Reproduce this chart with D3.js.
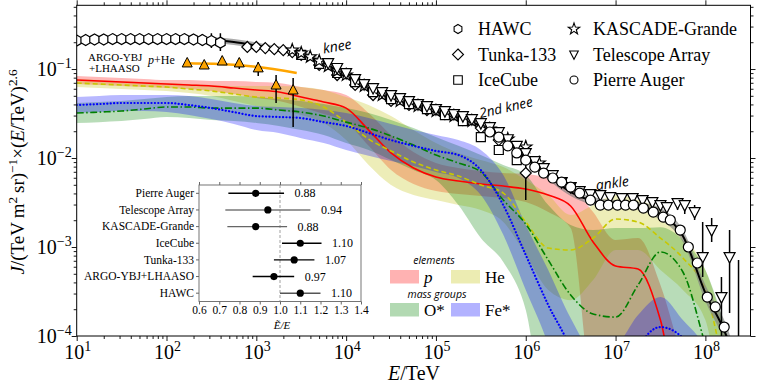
<!DOCTYPE HTML>
<html>
<head>
<meta charset="utf-8">
<style>
  body { margin: 0; background: #fff; }
  svg text { font-family: "Liberation Serif", "DejaVu Serif", serif; fill: #000; }
  .sans { font-family: "Open Sans", "DejaVu Sans", sans-serif; font-style: italic; }
</style>
</head>
<body>
<script src="https://cdn.jsdelivr.net/npm/d3@7"></script>
<script>

// *** DATA ***

// energy grid (TeV) for the model curves
var gridE = [1e1, 1.78e1, 3.16e1, 5.62e1, 1e2, 1.78e2, 3.16e2, 5.62e2, 1e3, 1.78e3, 3.16e3, 5.62e3,
  1e4, 1.78e4, 3.16e4, 5.62e4, 1e5, 1.78e5, 3.16e5, 5.62e5, 1e6, 1.78e6, 3.16e6, 5.62e6,
  1e7, 1.78e7, 3.16e7, 5.62e7, 1e8, 1.78e8, 3.16e8];

// protons
var pMid = [0.0752, 0.0733, 0.0714, 0.0696, 0.0678, 0.0661, 0.0644, 0.0612, 0.0581, 0.0551, 0.0484, 0.0426,
  0.0364, 0.0206, 0.0114, 0.00772, 0.00612, 0.00551, 0.00510, 0.00484, 0.00448, 0.00384, 0.00289, 0.00114,
  6.12e-4, 5.66e-4, 1.51e-4, 1.1e-5, 1e-5, 1e-5, 1e-5];
var pHi = [0.0834, 0.0813, 0.0792, 0.0772, 0.0752, 0.0752, 0.0733, 0.0733, 0.0714, 0.0696, 0.0628, 0.0581,
  0.0510, 0.0320, 0.0181, 0.0117, 0.00879, 0.00772, 0.00714, 0.00678, 0.00661, 0.00596, 0.00484, 0.00247,
  0.00120, 0.00126, 3.74e-4, 5.37e-5, 1e-5, 1e-5, 1e-5];
var pLo = [0.0678, 0.0661, 0.0644, 0.0628, 0.0612, 0.0596, 0.0566, 0.0524, 0.0472, 0.0437, 0.0374, 0.0312,
  0.0253, 0.0137, 0.00733, 0.00510, 0.00426, 0.00394, 0.00374, 0.00355, 0.00320, 0.00247, 0.00163, 1.9e-5,
  1e-5, 1e-5, 1e-5, 1e-5, 1e-5, 1e-5, 1e-5];

// helium
var heMid = [0.0696, 0.0678, 0.0661, 0.0644, 0.0628, 0.0596, 0.0566, 0.0524, 0.0484, 0.0472, 0.0448, 0.0374,
  0.0253, 0.0163, 0.0120, 0.00902, 0.00733, 0.00628, 0.00497, 0.00404, 0.00191, 9.74e-4, 9.25e-4, 0.00126,
  0.00206, 0.00191, 0.00126, 7.52e-4, 3.28e-4, 3.2e-5, 1e-5];
var heHi = [0.0772, 0.0752, 0.0733, 0.0714, 0.0696, 0.0678, 0.0661, 0.0644, 0.0644, 0.0644, 0.0628, 0.0581,
  0.0484, 0.0394, 0.0296, 0.0206, 0.0147, 0.0114, 0.00949, 0.00792, 0.00566, 0.00384, 0.00229, 0.00296,
  0.00384, 0.00337, 0.00260, 0.00137, 5.51e-4, 9.0e-5, 1e-5];
var heLo = [0.0628, 0.0612, 0.0596, 0.0581, 0.0566, 0.0537, 0.0497, 0.0437, 0.0384, 0.0346, 0.0304, 0.0247,
  0.0159, 0.00834, 0.00497, 0.00384, 0.00337, 0.00296, 0.00260, 0.00191, 8.13e-4, 3.28e-4, 2.53e-4, 4.26e-4,
  9.25e-4, 9.25e-4, 5.51e-4, 3.28e-4, 1.51e-4, 1.1e-5, 1e-5];

// oxygen group
var oMid = [0.0320, 0.0328, 0.0337, 0.0355, 0.0374, 0.0374, 0.0364, 0.0364, 0.0364, 0.0346, 0.0328, 0.0296,
  0.0253, 0.0217, 0.0177, 0.0140, 0.0108, 0.00879, 0.00696, 0.00337, 0.00181, 7.14e-4, 2.89e-4, 1.77e-4,
  1.63e-4, 3.74e-4, 8.79e-4, 5.24e-4, 7.9e-5, 1e-5, 1e-5];
var oHi = [0.0415, 0.0426, 0.0437, 0.0460, 0.0484, 0.0497, 0.0497, 0.0497, 0.0484, 0.0460, 0.0437, 0.0404,
  0.0364, 0.0320, 0.0267, 0.0217, 0.0172, 0.0137, 0.0108, 0.00834, 0.00644, 0.00296, 0.00177, 0.00155,
  0.00163, 0.00163, 0.00167, 0.00120, 5.51e-4, 1e-4, 1e-5];
var oLo = [0.0247, 0.0253, 0.0260, 0.0274, 0.0289, 0.0281, 0.0267, 0.0260, 0.0247, 0.0229, 0.0206, 0.0181,
  0.0147, 0.0123, 0.00949, 0.00733, 0.00566, 0.00296, 0.00126, 6.78e-4, 1.96e-4, 1e-5, 1e-5, 1e-5,
  1e-5, 1e-5, 1e-5, 1e-5, 1e-5, 1e-5, 1e-5];

// iron group
var feMid = [0.0394, 0.0404, 0.0415, 0.0415, 0.0415, 0.0394, 0.0364, 0.0328, 0.0296, 0.0289, 0.0281, 0.0253,
  0.0229, 0.0191, 0.0159, 0.0137, 0.0120, 0.0108, 0.00733, 0.00296, 8.13e-4, 2.23e-4, 7.0e-5, 1e-5,
  1e-5, 7.0e-5, 1.26e-4, 9.5e-5, 1e-5, 1e-5, 1e-5];
var feHi = [0.0484, 0.0497, 0.0510, 0.0510, 0.0510, 0.0497, 0.0460, 0.0415, 0.0384, 0.0374, 0.0364, 0.0346,
  0.0320, 0.0281, 0.0241, 0.0206, 0.0181, 0.0159, 0.0123, 0.00644, 0.00177, 5.51e-4, 1.59e-4, 7.0e-5,
  7.9e-5, 1.72e-4, 2.74e-4, 1.51e-4, 7.0e-5, 1e-5, 1e-5];
var feLo = [0.0320, 0.0328, 0.0337, 0.0337, 0.0328, 0.0304, 0.0274, 0.0241, 0.0206, 0.0191, 0.0167, 0.0147,
  0.0123, 0.0106, 0.00925, 0.00813, 0.00696, 0.00596, 0.00384, 0.00137, 3.28e-4, 7.9e-5, 1e-5, 1e-5,
  1e-5, 1e-5, 1e-5, 1e-5, 1e-5, 1e-5, 1e-5];

// all-particle fit
var totMid = [0.209, 0.212, 0.215, 0.215, 0.215, 0.215, 0.212, 0.201, 0.184, 0.167, 0.151, 0.117,
  0.0834, 0.0596, 0.0460, 0.0384, 0.0328, 0.0281, 0.0229, 0.0163, 0.0100, 0.00628, 0.00415, 0.00328,
  0.00304, 0.00289, 0.00235, 0.00133, 3.04e-4, 9.0e-5, 1e-5];
var totHi = [0.226, 0.229, 0.232, 0.232, 0.232, 0.232, 0.229, 0.217, 0.199, 0.180, 0.163, 0.126,
  0.0901, 0.0644, 0.0497, 0.0415, 0.0355, 0.0304, 0.0248, 0.0176, 0.0108, 0.00696, 0.00460, 0.00364,
  0.00337, 0.00320, 0.00274, 0.00155, 3.74e-4, 1.2e-4, 1.3e-5];
var totLo = [0.193, 0.196, 0.199, 0.199, 0.199, 0.199, 0.196, 0.186, 0.170, 0.155, 0.140, 0.108,
  0.0772, 0.0551, 0.0426, 0.0355, 0.0303, 0.0260, 0.0212, 0.0151, 0.00926, 0.00566, 0.00374, 0.00296,
  0.00274, 0.00261, 0.00201, 0.00114, 2.47e-4, 7e-5, 8e-6];

// measurements
var hawcE = [10, 12.6, 15.8, 20, 25.1, 31.6, 39.8, 50.1, 63.1, 79.4, 100, 126, 158, 200, 251, 316, 398];
var hawcJ = [0.209, 0.212, 0.215, 0.215, 0.217, 0.217, 0.217, 0.217, 0.217, 0.217, 0.217, 0.217, 0.217, 0.215, 0.212, 0.206, 0.198];
var hawcHi = [null, null, null, null, null, null, null, null, null, null, null, null, 0.235, 0.241, 0.247, 0.253, 0.253];
var hawcLo = [null, null, null, null, null, null, null, null, null, null, null, null, 0.201, 0.191, 0.181, 0.172, 0.159];

var tunkaE = [794, 1000, 1259, 1585, 1995, 2512, 3162, 5012, 7943, 12600, 19950, 31620, 50120, 79430, 125900, 199500, 316200, 501200, 1e6];
var tunkaJ = [0.177, 0.177, 0.172, 0.167, 0.163, 0.155, 0.144, 0.111, 0.0856, 0.0661, 0.0510, 0.0437, 0.0394, 0.0346, 0.0312, 0.0267, 0.0217, 0.0159, 0.00678];
var tunkaHi = [null, null, null, null, null, null, null, null, null, null, null, null, null, null, null, null, null, null, 0.0103];
var tunkaLo = [null, null, null, null, null, null, null, null, null, null, null, null, null, null, null, null, null, null, 0.00337];

var icE = [3162, 5012, 7943, 12590, 19950, 31620, 50120, 79430, 125900, 199500, 316200, 501200, 794300];
var icJ = [0.144, 0.114, 0.0902, 0.0714, 0.0551, 0.0460, 0.0404, 0.0355, 0.0304, 0.0260, 0.0172, 0.0123, 0.00949];

var kgE = [2512, 3162, 3981, 5012, 6310, 7943, 1e4, 15850, 25120, 39810, 63100, 1e5, 158500, 251200, 398100, 631000, 1e6, 1.41e6];
var kgJ = [0.163, 0.151, 0.137, 0.123, 0.108, 0.0949, 0.0856, 0.0644, 0.0510, 0.0437, 0.0384, 0.0337, 0.0296, 0.0260, 0.0212, 0.0163, 0.0133, 0.00879];

var taE = [6310, 7943, 1e4, 12590, 15850, 19950, 25120, 31620, 39810, 50120, 63100, 79430, 1e5, 1.259e5, 1.585e5,
  1.995e5, 2.512e5, 3.162e5, 3.981e5, 5.012e5, 6.31e5, 7.943e5, 1e6, 1.259e6, 1.585e6, 1.995e6, 2.512e6, 3.162e6,
  3.981e6, 5.25e6, 6.76e6, 8.71e6, 1.175e7, 1.549e7, 2.0e7, 2.57e7, 3.16e7, 3.72e7, 4.9e7, 5.89e7, 7.59e7,
  9.33e7, 1.175e8, 1.51e8, 1.86e8, 2.34e8];
var taJ = [0.117, 0.103, 0.0902, 0.0772, 0.0678, 0.0612, 0.0551, 0.0510, 0.0472, 0.0437, 0.0404, 0.0384, 0.0355,
  0.0337, 0.0312, 0.0296, 0.0274, 0.0247, 0.0223, 0.0196, 0.0163, 0.0137, 0.0114, 0.00925, 0.00772, 0.00644,
  0.00537, 0.00472, 0.00426, 0.00394, 0.00384, 0.00364, 0.00355, 0.00355, 0.00337, 0.00320, 0.00296, 0.00281,
  0.00312, 0.00296, 0.00247, 7.72e-4, 0.00155, 2.74e-4, 7.72e-4, 6.96e-5];
var taHi = [];
var taLo = [];
taE.forEach(function() { taHi.push(null); taLo.push(null); });
// error bars of the highest-energy points
var taErrIdx = [38, 39, 40, 41, 42, 43, 44, 45];
var taErrHi = [0.00355, 0.00337, 0.00296, 0.00191, 0.00212, 4.60e-4, 0.00155, 7.14e-4];
var taErrLo = [0.00260, 0.00235, 0.00201, 4.60e-4, 0.00114, 1e-5, 1.81e-4, 1e-5];
taErrIdx.forEach(function(k, i) { taHi[k] = taErrHi[i]; taLo[k] = taErrLo[i]; });

var augerE = [3.98e5, 5.01e5, 6.31e5, 7.94e5, 1e6, 1.26e6, 1.58e6, 2.0e6, 2.51e6, 3.16e6, 3.98e6, 5.25e6, 6.76e6,
  8.32e6, 1.05e7, 1.29e7, 1.58e7, 2.04e7, 2.63e7, 3.39e7, 4.07e7, 5.25e7, 6.46e7, 8.13e7, 1.05e8, 1.29e8, 1.62e8];
var augerJ = [0.0196, 0.0172, 0.0137, 0.0114, 0.00949, 0.00792, 0.00678, 0.00596, 0.00537, 0.00472, 0.00404,
  0.00337, 0.00296, 0.00296, 0.00296, 0.00296, 0.00296, 0.00274, 0.00247, 0.00217, 0.00201, 0.00155, 0.00100,
  6.61e-4, 2.74e-4, 2.12e-4, 1.26e-4];

var argoE = [170, 263, 417, 646, 1050, 1660, 2570];
var argoJ = [0.117, 0.111, 0.123, 0.117, 0.103, 0.0661, 0.0581];
var argoHi = [0.126, 0.120, 0.137, 0.133, 0.120, 0.0856, 0.0792];
var argoLo = [0.108, 0.103, 0.111, 0.100, 0.0834, 0.0415, 0.0223];
var argoFitE = [158, 398, 1000, 2818];
var argoFitJ = [0.116, 0.114, 0.106, 0.0902];

// energy-scale inset
var biasNames = ['Pierre Auger', 'Telescope Array', 'KASCADE-Grande', 'IceCube', 'Tunka-133', 'ARGO-YBJ+LHAASO', 'HAWC'];
var biasVal = [0.88, 0.94, 0.88, 1.10, 1.07, 0.97, 1.10];
var biasLo = [0.745, 0.73, 0.74, 1.01, 0.97, 0.865, 1.00];
var biasHi = [1.02, 1.15, 1.035, 1.205, 1.17, 1.07, 1.20];
var biasTicks = [0.6, 0.7, 0.8, 0.9, 1.0, 1.1, 1.2, 1.3, 1.4];

// *** FUNCTIONS ***

function markerPath(kind, r) {
  var k, a, pts = [];
  if (kind === 'circle') return d3.symbol(d3.symbolCircle, Math.PI * r * r)();
  if (kind === 'square') return 'M' + (-r) + ',' + (-r) + 'H' + r + 'V' + r + 'H' + (-r) + 'Z';
  if (kind === 'diamond') return 'M0,' + (-r) + 'L' + r + ',0L0,' + r + 'L' + (-r) + ',0Z';
  if (kind === 'tridown') return 'M' + (-r) + ',' + (-r * 0.8) + 'L' + r + ',' + (-r * 0.8) + 'L0,' + (r * 1.1) + 'Z';
  if (kind === 'triup') return 'M0,' + (-r * 1.1) + 'L' + r + ',' + (r * 0.8) + 'L' + (-r) + ',' + (r * 0.8) + 'Z';
  if (kind === 'hexagon') {
    for (k = 0; k < 6; k++) { a = -Math.PI / 2 + k * Math.PI / 3; pts.push([r * Math.cos(a), r * Math.sin(a)]); }
    return 'M' + pts.join('L') + 'Z';
  }
  if (kind === 'star') {
    for (k = 0; k < 10; k++) {
      a = -Math.PI / 2 + k * Math.PI / 5;
      var rr = (k % 2 === 0) ? r : r * 0.4;
      pts.push([rr * Math.cos(a), rr * Math.sin(a)]);
    }
    return 'M' + pts.join('L') + 'Z';
  }
}

// text with italic / superscript segments
function richText(sel, parts, sup) {
  parts.forEach(function(p) {
    var t = sel.append('tspan').text(p.t);
    if (p.i) t.style('font-style', 'italic');
    if (p.s) t.attr('dy', -sup).attr('font-size', '0.7em');
    if (p.b) t.attr('dy', sup);
  });
}

function logMinor(lo, hi) {
  var out = [];
  for (var p = 0; p <= 9; p++) {
    for (var m = 2; m <= 9; m++) {
      var v = m * Math.pow(10, p - 5);
      if (v >= lo && v <= hi) out.push(v);
    }
  }
  return out;
}

// *** CHART ***

var W = 774, H = 387;
var L = 76.7, R = 750.5, T = 5.3, B = 336;

var svg = d3.select('body').append('svg').attr('width', W).attr('height', H);

var x = d3.scaleLog().domain([10, 3.18e8]).range([L, R]);
var y = d3.scaleLog().domain([1e-4, 0.52]).range([B, T]);

svg.append('clipPath').attr('id', 'clip').append('rect')
  .attr('x', L).attr('y', T).attr('width', R - L).attr('height', B - T);

var plot = svg.append('g').attr('clip-path', 'url(#clip)');

// model bands
function band(lo, hi, color, op) {
  var pts = gridE.map(function(e, i) { return {e: e, lo: lo[i], hi: hi[i]}; });
  plot.append('path').datum(pts)
    .attr('d', d3.area().x(function(d) { return x(d.e); })
      .y0(function(d) { return y(d.lo); }).y1(function(d) { return y(d.hi); })
      .curve(d3.curveMonotoneX))
    .attr('fill', color).attr('fill-opacity', op);
}
function curve(vals, color, dash, width) {
  var pts = gridE.map(function(e, i) { return {e: e, v: vals[i]}; });
  plot.append('path').datum(pts)
    .attr('d', d3.line().x(function(d) { return x(d.e); }).y(function(d) { return y(d.v); }).curve(d3.curveMonotoneX))
    .attr('fill', 'none').attr('stroke', color).attr('stroke-width', width)
    .attr('stroke-dasharray', dash).attr('stroke-linecap', dash === '0.1,3.3' ? 'round' : 'butt');
}

band(pLo, pHi, '#ff0000', 0.28);
band(heLo, heHi, '#bfbf00', 0.28);
band(oLo, oHi, '#008000', 0.28);
band(feLo, feHi, '#0000ff', 0.28);

curve(pMid, '#ff0000', null, 1.6);
curve(heMid, '#c8c800', '5,3', 1.6);
curve(oMid, '#008000', '7,2.5,1.5,2.5', 1.6);
curve(feMid, '#0000ff', '0.1,3.3', 2.2);

// all-particle band & line
band(totLo, totHi, '#808080', 0.65);
curve(totMid, '#000000', null, 2);

// experiments
function points(E, J, lo, hi, kind, r) {
  var g = plot.append('g');
  var data = E.map(function(e, i) { return {e: e, j: J[i], lo: lo ? lo[i] : null, hi: hi ? hi[i] : null}; });
  g.selectAll('line').data(data.filter(function(d) { return d.lo !== null; })).enter().append('line')
    .attr('x1', function(d) { return x(d.e); }).attr('x2', function(d) { return x(d.e); })
    .attr('y1', function(d) { return y(d.lo); }).attr('y2', function(d) { return y(d.hi); })
    .attr('stroke', '#000').attr('stroke-width', 1.5);
  g.selectAll('path').data(data).enter().append('path')
    .attr('d', markerPath(kind, r))
    .attr('transform', function(d) { return 'translate(' + x(d.e) + ',' + y(d.j) + ')'; })
    .attr('fill', '#fff').attr('stroke', '#000').attr('stroke-width', 1.2);
}

points(hawcE, hawcJ, hawcLo, hawcHi, 'hexagon', 5.5);
points(tunkaE, tunkaJ, tunkaLo, tunkaHi, 'diamond', 5.5);
points(icE, icJ, null, null, 'square', 4.5);
points(kgE, kgJ, null, null, 'star', 6.5);
points(taE, taJ, taLo, taHi, 'tridown', 5.5);
points(augerE, augerJ, null, null, 'circle', 5);

// ARGO-YBJ + LHAASO p+He
plot.append('path').datum(argoFitE.map(function(e, i) { return {e: e, v: argoFitJ[i]}; }))
  .attr('d', d3.line().x(function(d) { return x(d.e); }).y(function(d) { return y(d.v); }).curve(d3.curveMonotoneX))
  .attr('fill', 'none').attr('stroke', '#ffa500').attr('stroke-width', 2.5);
var argoG = plot.append('g');
argoE.forEach(function(e, i) {
  argoG.append('line').attr('x1', x(e)).attr('x2', x(e)).attr('y1', y(argoLo[i])).attr('y2', y(argoHi[i]))
    .attr('stroke', '#000').attr('stroke-width', 1.5);
  argoG.append('path').attr('d', markerPath('triup', 5))
    .attr('transform', 'translate(' + x(e) + ',' + y(argoJ[i]) + ')')
    .attr('fill', '#ffa500').attr('stroke', '#000').attr('stroke-width', 1);
});

// *** AXES ***

var xMajor = [1e1, 1e2, 1e3, 1e4, 1e5, 1e6, 1e7, 1e8];
var yMajor = [1e-4, 1e-3, 1e-2, 1e-1];
var xMinor = logMinor(10, 3.18e8);
var yMinor = logMinor(1e-4, 0.52);

function axis(gen, trans, vals, size) {
  svg.append('g').attr('transform', trans)
    .call(gen.tickValues(vals).tickSize(size).tickFormat(''))
    .call(function(g) { g.select('.domain').remove(); g.selectAll('line').attr('stroke-width', 0.9); });
}
axis(d3.axisBottom(x), 'translate(0,' + B + ')', xMajor, 5);
axis(d3.axisBottom(x), 'translate(0,' + B + ')', xMinor, 3);
axis(d3.axisTop(x), 'translate(0,' + T + ')', xMajor, 5);
axis(d3.axisTop(x), 'translate(0,' + T + ')', xMinor, 3);
axis(d3.axisLeft(y), 'translate(' + L + ',0)', yMajor, 5);
axis(d3.axisLeft(y), 'translate(' + L + ',0)', yMinor, 3);
axis(d3.axisRight(y), 'translate(' + R + ',0)', yMajor, 5);
axis(d3.axisRight(y), 'translate(' + R + ',0)', yMinor, 3);

svg.append('rect').attr('x', L).attr('y', T).attr('width', R - L).attr('height', B - T)
  .attr('fill', 'none').attr('stroke', '#000').attr('stroke-width', 1);

xMajor.forEach(function(v) {
  var t = svg.append('text').attr('x', x(v) + 1).attr('y', B + 23).attr('text-anchor', 'middle').attr('font-size', 20);
  richText(t, [{t: '10'}, {t: String(Math.round(Math.log10(v))), s: true}], 8);
});
yMajor.forEach(function(v) {
  var t = svg.append('text').attr('x', L - 5).attr('y', y(v) + 7).attr('text-anchor', 'end').attr('font-size', 20);
  richText(t, [{t: '10'}, {t: '\u2212' + Math.round(-Math.log10(v)), s: true}], 8);
});

var xl = svg.append('text').attr('x', 414).attr('y', 380).attr('text-anchor', 'middle').attr('font-size', 20);
richText(xl, [{t: 'E', i: true}, {t: '/TeV'}], 7);

var yl = svg.append('text').attr('transform', 'translate(24,172) rotate(-90)')
  .attr('text-anchor', 'middle').attr('font-size', 19);
richText(yl, [{t: 'J', i: true}, {t: '/(TeV\u2009m'}, {t: '2', s: true}, {t: '\u2009sr)', b: true},
  {t: '\u22121', s: true}, {t: '\u00d7(', b: true}, {t: 'E', i: true}, {t: '/TeV)'}, {t: '2.6', s: true}], 7);

// *** ANNOTATIONS ***

svg.append('text').attr('class', 'sans').attr('font-size', 14).attr('text-anchor', 'middle')
  .attr('transform', 'translate(338,51) rotate(-10)').text('knee');
svg.append('text').attr('class', 'sans').attr('font-size', 13.5).attr('text-anchor', 'middle')
  .attr('transform', 'translate(507,112) rotate(-13)').text('2nd knee');
svg.append('text').attr('class', 'sans').attr('font-size', 14).attr('text-anchor', 'middle')
  .attr('transform', 'translate(613,188) rotate(-8)').text('ankle');

svg.append('text').attr('x', 88).attr('y', 61).attr('font-size', 11).text('ARGO-YBJ');
svg.append('text').attr('x', 89).attr('y', 72).attr('font-size', 11).text('+LHAASO');
var phe = svg.append('text').attr('x', 148).attr('y', 64).attr('font-size', 12);
richText(phe, [{t: 'p', i: true}, {t: '+He'}], 0);

// *** LEGEND (experiments) ***

var legItems = [
  {name: 'HAWC', kind: 'hexagon', r: 4.5, cx: 458, tx: 478, row: 0},
  {name: 'Tunka-133', kind: 'diamond', r: 5.5, cx: 458, tx: 478, row: 1},
  {name: 'IceCube', kind: 'square', r: 4.3, cx: 458, tx: 478, row: 2},
  {name: 'KASCADE-Grande', kind: 'star', r: 6, cx: 574, tx: 593, row: 0},
  {name: 'Telescope Array', kind: 'tridown', r: 4.3, cx: 574, tx: 593, row: 1},
  {name: 'Pierre Auger', kind: 'circle', r: 4, cx: 574, tx: 593, row: 2}
];
legItems.forEach(function(d) {
  var cy = 29 + d.row * 25.5;
  svg.append('path').attr('d', markerPath(d.kind, d.r)).attr('transform', 'translate(' + d.cx + ',' + cy + ')')
    .attr('fill', '#fff').attr('stroke', '#000').attr('stroke-width', 1.1);
  svg.append('text').attr('x', d.tx).attr('y', cy + 6).attr('font-size', 18).text(d.name);
});

// *** LEGEND (components) ***

svg.append('text').attr('class', 'sans').attr('x', 434).attr('y', 264).attr('font-size', 10.5)
  .attr('text-anchor', 'middle').text('elements');
svg.append('text').attr('class', 'sans').attr('x', 437).attr('y', 298).attr('font-size', 10.5)
  .attr('text-anchor', 'middle').text('mass groups');
var comps = [
  {lab: [{t: 'p', i: true}], color: '#ff0000', px: 390, py: 270},
  {lab: [{t: 'He'}], color: '#bfbf00', px: 451, py: 270},
  {lab: [{t: 'O*'}], color: '#008000', px: 390, py: 303},
  {lab: [{t: 'Fe*'}], color: '#0000ff', px: 451, py: 303}
];
comps.forEach(function(c) {
  svg.append('rect').attr('x', c.px).attr('y', c.py).attr('width', 29).attr('height', 13.5)
    .attr('fill', c.color).attr('fill-opacity', 0.3);
  var t = svg.append('text').attr('x', c.px + 34).attr('y', c.py + 13).attr('font-size', 17);
  richText(t, c.lab, 0);
});

// *** INSET ***

var ix = d3.scaleLinear().domain([0.6, 1.4]).range([199, 361]);
var iy = d3.scaleBand().domain(biasNames).range([185, 301.5]);
var inset = svg.append('g');
inset.append('rect').attr('x', 199).attr('y', 185).attr('width', 162).attr('height', 116.5)
  .attr('fill', '#fff').attr('stroke', '#666').attr('stroke-width', 0.9);

inset.append('g').attr('transform', 'translate(0,301.5)')
  .call(d3.axisBottom(ix).tickValues(biasTicks).tickSize(3).tickFormat(d3.format('.1f')))
  .call(function(g) {
    g.select('.domain').remove();
    g.selectAll('line').attr('stroke', '#666');
    g.selectAll('text').attr('font-size', 11.5).attr('font-family', '"Liberation Serif", serif').attr('dy', '0.6em');
  });
inset.append('g').attr('transform', 'translate(0,185)')
  .call(d3.axisTop(ix).tickValues(biasTicks).tickSize(3).tickFormat(''))
  .call(function(g) { g.select('.domain').remove(); g.selectAll('line').attr('stroke', '#666'); });
inset.append('g').attr('transform', 'translate(199,0)')
  .call(d3.axisLeft(iy).tickSize(3).tickPadding(2))
  .call(function(g) {
    g.select('.domain').remove();
    g.selectAll('line').attr('stroke', '#666');
    g.selectAll('text').attr('font-size', 11.5).attr('font-family', '"Liberation Serif", serif');
  });

inset.append('line').attr('x1', ix(1)).attr('x2', ix(1)).attr('y1', 185).attr('y2', 301.5)
  .attr('stroke', '#888').attr('stroke-width', 0.8).attr('stroke-dasharray', '3,2');

var biasShade = ['#000', '#777', '#666', '#000', '#000', '#000', '#555'];
biasNames.forEach(function(n, i) {
  var cy = iy(n) + iy.bandwidth() / 2;
  inset.append('line').attr('x1', ix(biasLo[i])).attr('x2', ix(biasHi[i])).attr('y1', cy).attr('y2', cy)
    .attr('stroke', biasShade[i]).attr('stroke-width', 1.4);
  inset.append('circle').attr('cx', ix(biasVal[i])).attr('cy', cy).attr('r', 3.6).attr('fill', '#000');
  inset.append('text').attr('x', ix(biasHi[i]) + 10.5).attr('y', cy + 4).attr('font-size', 12)
    .text(d3.format('.2f')(biasVal[i]));
});
inset.append('text').attr('x', 282).attr('y', 329).attr('font-size', 11).attr('text-anchor', 'middle')
  .style('font-style', 'italic').text('\u1EBC/E');

</script>
</body>
</html>
